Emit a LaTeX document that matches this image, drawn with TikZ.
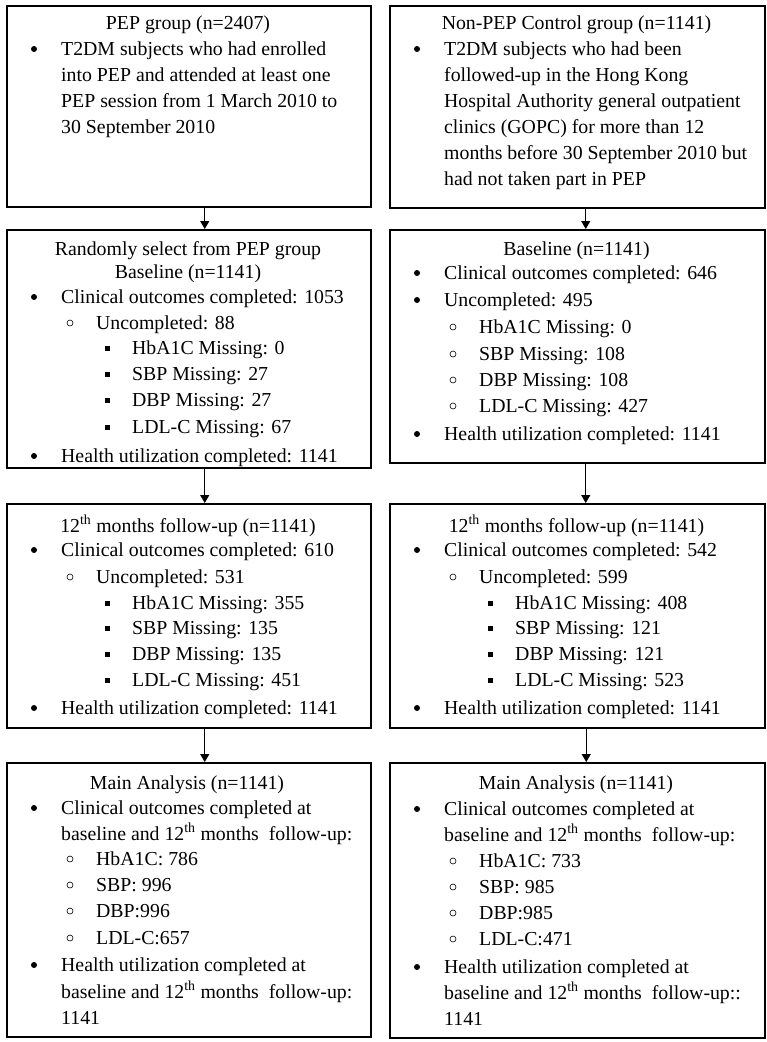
\documentclass[tikz,border=0pt]{standalone}
\usepackage{fontspec}
\setmainfont{Liberation Serif}
\usetikzlibrary{arrows.meta,calc}
\newcounter{ln}
\tikzset{
    box/.style={draw,line width=1.5pt,rectangle,anchor=north west,inner sep=0pt},
    head/.style={anchor=base,inner sep=0pt,font=\fontsize{19.8pt}{24pt}\selectfont},
    txt/.style={anchor=base west,inner sep=0pt,font=\fontsize{19.8pt}{24pt}\selectfont},
    arr/.style={line width=1.3pt,-{Triangle[length=8pt,width=9pt]}}
}
% #1 = left edge of the box, #2 = baseline, #3 = text
\newcommand{\hd}[3]{
    \stepcounter{ln}
    \node[head] (ln\theln) at (#1,#2) {#3};
}
\newcommand{\lone}[3]{
    \stepcounter{ln}
    \fill (#1+28,#2-6) circle (3pt);
    \node[txt] (ln\theln) at (#1+55,#2) {#3};
}
\newcommand{\lcont}[3]{
    \stepcounter{ln}
    \node[txt] (ln\theln) at (#1+55,#2) {#3};
}
\newcommand{\ltwo}[3]{
    \stepcounter{ln}
    \draw[line width=0.6pt] (#1+64,#2-6) circle (3pt);
    \node[txt] (ln\theln) at (#1+90,#2) {#3};
}
\newcommand{\lthree}[3]{
    \stepcounter{ln}
    \fill (#1+98.5,#2-8.5) rectangle ++(5,5);
    \node[txt] (ln\theln) at (#1+126,#2) {#3};
}

\begin{document}
\begin{tikzpicture}[x=1pt,y=-1pt]
    \useasboundingbox (0,0) rectangle (767,1042);

    \node[box,minimum width=364pt,minimum height=201pt] (pep)  at (6,5)   {};
    \node[box,minimum width=375pt,minimum height=202pt] (ctl)  at (389,5) {};
    \node[box,minimum width=364pt,minimum height=238pt] (pepb) at (6,229)   {};
    \node[box,minimum width=375pt,minimum height=233pt] (ctlb) at (389,229) {};
    \node[box,minimum width=364pt,minimum height=224pt] (pepf) at (6,503)   {};
    \node[box,minimum width=375pt,minimum height=224pt] (ctlf) at (389,503) {};
    \node[box,minimum width=364pt,minimum height=274pt] (pepm) at (6,762)   {};
    \node[box,minimum width=375pt,minimum height=275pt] (ctlm) at (389,762) {};

    \draw[arr] ([xshift=16pt]pep.south)  -- ([xshift=16pt]pepb.north);
    \draw[arr] ([xshift=16pt]pepb.south) -- ([xshift=16pt]pepf.north);
    \draw[arr] ([xshift=16pt]pepf.south) -- ([xshift=16pt]pepm.north);
    \draw[arr] ([xshift=8.5pt]ctl.south)  -- ([xshift=8.5pt]ctlb.north);
    \draw[arr] ([xshift=8.5pt]ctlb.south) -- ([xshift=8.5pt]ctlf.north);
    \draw[arr] ([xshift=9pt]ctlf.south) -- ([xshift=9pt]ctlm.north);

    % PEP group
    \hd{188}{29}{PEP group (n=2407)}
    \lone{6}{55}{T2DM subjects who had enrolled}
    \lcont{6}{81}{into PEP and attended at least one}
    \lcont{6}{107}{PEP session from 1 March 2010 to}
    \lcont{6}{133}{30 September 2010}

    % control group
    \hd{576.5}{29}{Non-PEP Control group (n=1141)}
    \lone{389}{55}{T2DM subjects who had been}
    \lcont{389}{81}{followed-up in the Hong Kong}
    \lcont{389}{107}{Hospital Authority general outpatient}
    \lcont{389}{133}{clinics (GOPC) for more than 12}
    \lcont{389}{159}{months before 30 September 2010 but}
    \lcont{389}{185}{had not taken part in PEP}

    % baseline
    \hd{188}{255}{Randomly select from PEP group}
    \hd{188}{278}{Baseline (n=1141)}
    \lone{6}{303}{Clinical outcomes completed: 1053}
    \ltwo{6}{329}{Uncompleted: 88}
    \lthree{6}{354}{HbA1C Missing: 0}
    \lthree{6}{380}{SBP Missing: 27}
    \lthree{6}{406}{DBP Missing: 27}
    \lthree{6}{433}{LDL-C Missing: 67}
    \lone{6}{462}{Health utilization completed: 1141}

    \hd{576.5}{255}{Baseline (n=1141)}
    \lone{389}{279}{Clinical outcomes completed: 646}
    \lone{389}{306}{Uncompleted: 495}
    \ltwo{389}{333}{HbA1C Missing: 0}
    \ltwo{389}{360}{SBP Missing: 108}
    \ltwo{389}{386}{DBP Missing: 108}
    \ltwo{389}{412}{LDL-C Missing: 427}
    \lone{389}{440}{Health utilization completed: 1141}

    % 12th months
    \hd{188}{532}{12\textsuperscript{th} months follow-up (n=1141)}
    \lone{6}{556}{Clinical outcomes completed: 610}
    \ltwo{6}{583}{Uncompleted: 531}
    \lthree{6}{609}{HbA1C Missing: 355}
    \lthree{6}{634}{SBP Missing: 135}
    \lthree{6}{660}{DBP Missing: 135}
    \lthree{6}{686}{LDL-C Missing: 451}
    \lone{6}{714}{Health utilization completed: 1141}

    \hd{576.5}{532}{12\textsuperscript{th} months follow-up (n=1141)}
    \lone{389}{556}{Clinical outcomes completed: 542}
    \ltwo{389}{583}{Uncompleted: 599}
    \lthree{389}{609}{HbA1C Missing: 408}
    \lthree{389}{634}{SBP Missing: 121}
    \lthree{389}{660}{DBP Missing: 121}
    \lthree{389}{686}{LDL-C Missing: 523}
    \lone{389}{714}{Health utilization completed: 1141}

    % main analysis
    \hd{187}{789}{Main Analysis (n=1141)}
    \lone{6}{814}{Clinical outcomes completed at}
    \lcont{6}{840}{baseline and 12\textsuperscript{th} months~ follow-up:}
    \ltwo{6}{865}{HbA1C: 786}
    \ltwo{6}{891}{SBP: 996}
    \ltwo{6}{917}{DBP:996}
    \ltwo{6}{944}{LDL-C:657}
    \lone{6}{971}{Health utilization completed at}
    \lcont{6}{998}{baseline and 12\textsuperscript{th} months~ follow-up:}
    \lcont{6}{1024}{1141}

    \hd{576}{789}{Main Analysis (n=1141)}
    \lone{389}{815}{Clinical outcomes completed at}
    \lcont{389}{841}{baseline and 12\textsuperscript{th} months~ follow-up:}
    \ltwo{389}{867}{HbA1C: 733}
    \ltwo{389}{893}{SBP: 985}
    \ltwo{389}{919}{DBP:985}
    \ltwo{389}{945}{LDL-C:471}
    \lone{389}{973}{Health utilization completed at}
    \lcont{389}{999}{baseline and 12\textsuperscript{th} months~ follow-up::}
    \lcont{389}{1025}{1141}
\end{tikzpicture}
\end{document}
